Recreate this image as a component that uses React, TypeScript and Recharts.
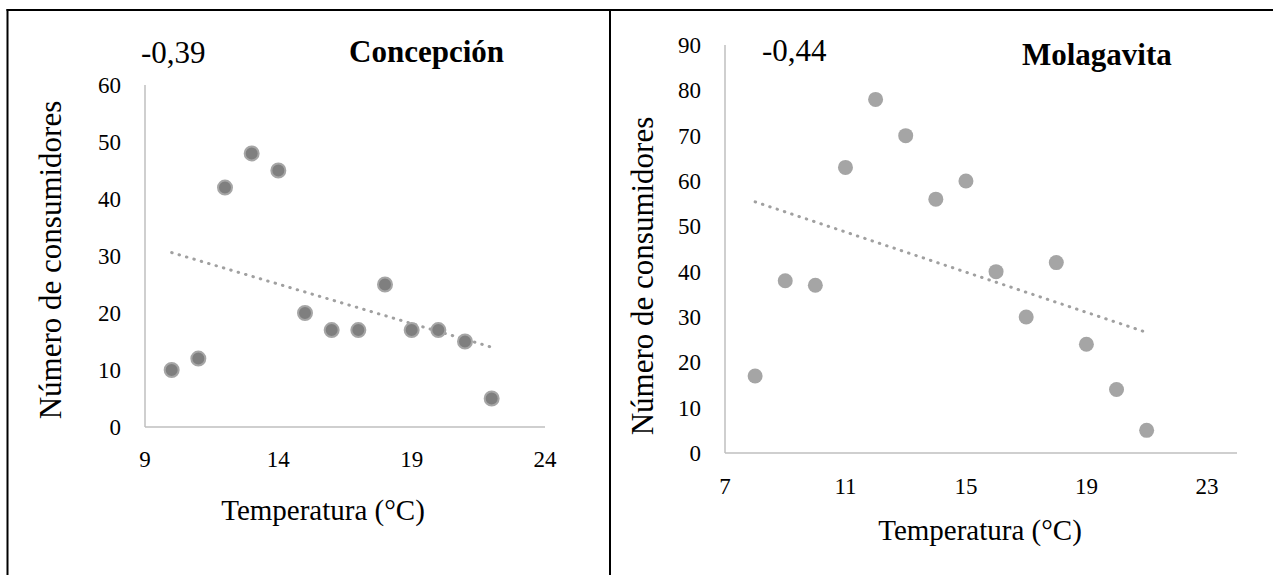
import { ScatterChart, Scatter, XAxis, YAxis, ReferenceLine, Label } from "recharts";

const concepcionTemp = [10, 11, 12, 13, 14, 15, 16, 17, 18, 19, 20, 21, 22];
const concepcionCount = [10, 12, 42, 48, 45, 20, 17, 17, 25, 17, 17, 15, 5];
const concepcionTrend = [
  { x: 10, y: 30.6 },
  { x: 22, y: 14.0 },
];
const concepcionXTicks = [9, 14, 19, 24];
const concepcionYTicks = [0, 10, 20, 30, 40, 50, 60];

const molagavitaTemp = [8, 9, 10, 11, 12, 13, 14, 15, 16, 17, 18, 19, 20, 21];
const molagavitaCount = [17, 38, 37, 63, 78, 70, 56, 60, 40, 30, 42, 24, 14, 5];
const molagavitaTrend = [
  { x: 8, y: 55.4 },
  { x: 21, y: 26.6 },
];
const molagavitaXTicks = [7, 11, 15, 19, 23];
const molagavitaYTicks = [0, 10, 20, 30, 40, 50, 60, 70, 80, 90];

const FONT = '"Liberation Serif", "Times New Roman", serif';
const axisLine = { stroke: "#bfbfbf", strokeWidth: 1.5 };

const concepcionData = concepcionTemp.map((t, i) => ({ t, n: concepcionCount[i] }));
const molagavitaData = molagavitaTemp.map((t, i) => ({ t, n: molagavitaCount[i] }));

const XTick = (props: any) => (
  <text x={props.x} y={props.y} dy="0.71em" textAnchor="middle" style={{ fontFamily: FONT, fontSize: 23 }} fill="#000">
    {props.payload.value}
  </text>
);
const YTick = (props: any) => (
  <text x={props.x} y={props.y} dy="0.35em" textAnchor="end" style={{ fontFamily: FONT, fontSize: 23 }} fill="#000">
    {props.payload.value}
  </text>
);

function yLabel(x: number, y: number) {
  return () => (
    <text
      x={x}
      y={y}
      transform={`rotate(-90, ${x}, ${y})`}
      textAnchor="middle"
      style={{ fontFamily: FONT, fontSize: 31 }}
      fill="#000"
    >
      Número de consumidores
    </text>
  );
}

function xLabel(x: number, y: number) {
  return () => (
    <text x={x} y={y} textAnchor="middle" style={{ fontFamily: FONT, fontSize: 29 }} fill="#000">
      Temperatura (°C)
    </text>
  );
}

const DarkDot = (props: any) => (
  <circle cx={props.cx} cy={props.cy} r={7} fill="#7f7f7f" stroke="#a6a6a6" strokeWidth={2} />
);
const LightDot = (props: any) => <circle cx={props.cx} cy={props.cy} r={7.5} fill="#a5a5a5" />;

export default function App() {
  return (
    <div style={{ position: "absolute", left: 0, top: 0, width: 1273, height: 575, background: "#fff", fontFamily: FONT }}>
      <div style={{ position: "absolute", left: 0, top: 0 }}>
        <ScatterChart width={610} height={575} margin={{ top: 85, right: 65, bottom: 0, left: 0 }}>
          <XAxis
            type="number"
            dataKey="t"
            domain={[9, 24]}
            ticks={concepcionXTicks}
            height={148}
            axisLine={axisLine}
            tickLine={false}
            tickSize={0}
            tickMargin={24}
            tick={XTick}
          >
            <Label content={xLabel(323, 520)} />
          </XAxis>
          <YAxis
            type="number"
            dataKey="n"
            domain={[0, 60]}
            ticks={concepcionYTicks}
            width={145}
            axisLine={axisLine}
            tickLine={false}
            tickSize={0}
            tickMargin={24}
            tick={YTick}
          >
            <Label content={yLabel(61, 260)} />
          </YAxis>
          <ReferenceLine
            segment={concepcionTrend}
            stroke="#a0a0a0"
            strokeWidth={3}
            strokeDasharray="0.5 7.2"
            strokeLinecap="round"
          />
          <Scatter data={concepcionData} shape={DarkDot} isAnimationActive={false} />
        </ScatterChart>
      </div>
      <div style={{ position: "absolute", left: 610, top: 0 }}>
        <ScatterChart width={663} height={575} margin={{ top: 45, right: 36, bottom: 0, left: 0 }}>
          <XAxis
            type="number"
            dataKey="t"
            domain={[7, 24]}
            ticks={molagavitaXTicks}
            height={122}
            axisLine={axisLine}
            tickLine={false}
            tickSize={0}
            tickMargin={25}
            tick={XTick}
          >
            <Label content={xLabel(370, 540)} />
          </XAxis>
          <YAxis
            type="number"
            dataKey="n"
            domain={[0, 90]}
            ticks={molagavitaYTicks}
            width={115}
            axisLine={axisLine}
            tickLine={false}
            tickSize={0}
            tickMargin={24}
            tick={YTick}
          >
            <Label content={yLabel(43, 276)} />
          </YAxis>
          <ReferenceLine
            segment={molagavitaTrend}
            stroke="#a0a0a0"
            strokeWidth={3}
            strokeDasharray="0.5 7.2"
            strokeLinecap="round"
          />
          <Scatter data={molagavitaData} shape={LightDot} isAnimationActive={false} />
        </ScatterChart>
      </div>
      <svg
        width={1273}
        height={575}
        style={{ position: "absolute", left: 0, top: 0, pointerEvents: "none" }}
      >
        <line x1={6.5} y1={10} x2={1273} y2={10} stroke="#000" strokeWidth={2} />
        <line x1={7.5} y1={9} x2={7.5} y2={575} stroke="#000" strokeWidth={2} />
        <line x1={610} y1={9} x2={610} y2={575} stroke="#000" strokeWidth={2} />
        <text x={141} y={63} style={{ fontFamily: FONT, fontSize: 31 }} fill="#000">-0,39</text>
        <text x={349} y={62} style={{ fontFamily: FONT, fontSize: 31, fontWeight: "bold" }} fill="#000">Concepción</text>
        <text x={762} y={61} style={{ fontFamily: FONT, fontSize: 31 }} fill="#000">-0,44</text>
        <text x={1022} y={65} style={{ fontFamily: FONT, fontSize: 31, fontWeight: "bold" }} fill="#000">Molagavita</text>
      </svg>
    </div>
  );
}
